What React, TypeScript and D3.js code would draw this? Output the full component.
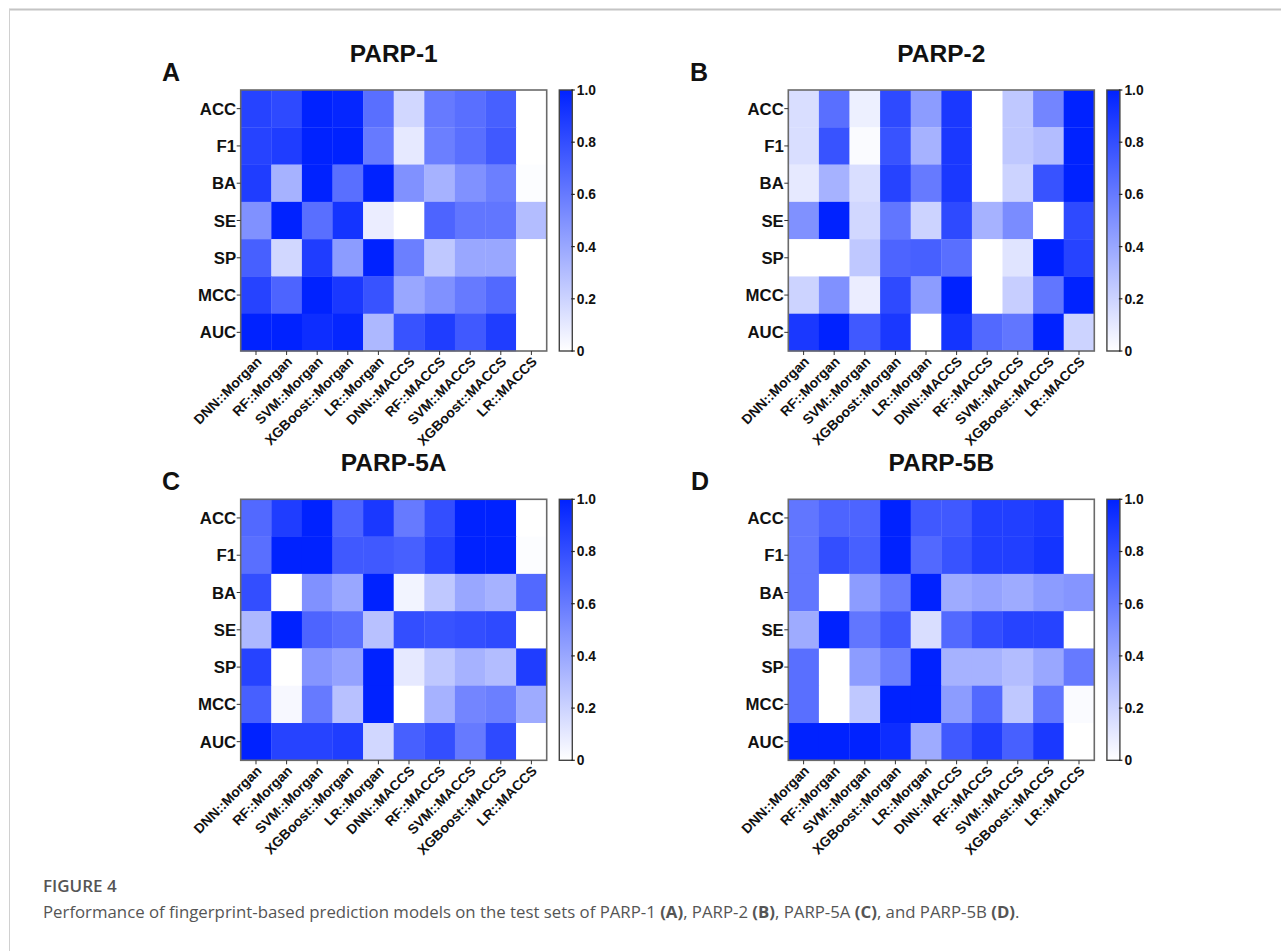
import React from "react";
import * as d3 from "d3";

const metrics = ["ACC", "F1", "BA", "SE", "SP", "MCC", "AUC"];
const models = [
  "DNN::Morgan", "RF::Morgan", "SVM::Morgan", "XGBoost::Morgan", "LR::Morgan",
  "DNN::MACCS", "RF::MACCS", "SVM::MACCS", "XGBoost::MACCS", "LR::MACCS",
];
const colorTicks = [0, 0.2, 0.4, 0.6, 0.8, 1.0];

// rows follow metrics, columns follow models
const parp1 = [
  [0.85, 0.82, 1.0, 0.98, 0.65, 0.18, 0.6, 0.65, 0.72, 0.0],
  [0.85, 0.88, 1.0, 1.0, 0.6, 0.1, 0.58, 0.65, 0.75, 0.0],
  [0.88, 0.35, 1.0, 0.65, 1.0, 0.5, 0.35, 0.5, 0.58, 0.01],
  [0.5, 1.0, 0.65, 0.92, 0.08, 0.0, 0.7, 0.62, 0.62, 0.3],
  [0.72, 0.18, 0.88, 0.45, 1.0, 0.58, 0.25, 0.4, 0.4, 0.0],
  [0.85, 0.7, 1.0, 0.9, 0.78, 0.4, 0.5, 0.6, 0.68, 0.0],
  [1.0, 1.0, 0.95, 0.98, 0.32, 0.78, 0.88, 0.75, 0.88, 0.0],
];
const parp2 = [
  [0.15, 0.65, 0.07, 0.82, 0.45, 0.9, 0.0, 0.25, 0.55, 1.0],
  [0.15, 0.78, 0.02, 0.78, 0.35, 0.9, 0.0, 0.25, 0.3, 1.0],
  [0.1, 0.35, 0.15, 0.85, 0.6, 0.9, 0.0, 0.2, 0.78, 1.0],
  [0.5, 1.0, 0.18, 0.62, 0.2, 0.82, 0.35, 0.52, 0.0, 0.82],
  [0.0, 0.0, 0.25, 0.7, 0.72, 0.65, 0.0, 0.12, 1.0, 0.85],
  [0.2, 0.5, 0.08, 0.82, 0.45, 1.0, 0.0, 0.22, 0.62, 1.0],
  [0.9, 1.0, 0.75, 0.9, 0.0, 0.92, 0.68, 0.62, 1.0, 0.2],
];
const parp5a = [
  [0.68, 0.88, 1.0, 0.7, 0.9, 0.6, 0.8, 1.0, 1.0, 0.0],
  [0.65, 1.0, 1.0, 0.75, 0.75, 0.72, 0.85, 1.0, 1.0, 0.01],
  [0.8, 0.0, 0.5, 0.4, 1.0, 0.05, 0.25, 0.4, 0.35, 0.68],
  [0.32, 1.0, 0.7, 0.65, 0.28, 0.8, 0.78, 0.8, 0.82, 0.0],
  [0.85, 0.0, 0.48, 0.42, 1.0, 0.1, 0.25, 0.35, 0.3, 0.88],
  [0.72, 0.03, 0.6, 0.28, 1.0, 0.0, 0.35, 0.55, 0.58, 0.38],
  [1.0, 0.85, 0.85, 0.88, 0.18, 0.72, 0.8, 0.6, 0.82, 0.0],
];
const parp5b = [
  [0.62, 0.7, 0.7, 1.0, 0.75, 0.75, 0.87, 0.87, 0.9, 0.0],
  [0.62, 0.8, 0.72, 1.0, 0.68, 0.78, 0.87, 0.87, 0.92, 0.0],
  [0.62, 0.0, 0.45, 0.6, 1.0, 0.38, 0.42, 0.38, 0.45, 0.48],
  [0.38, 1.0, 0.62, 0.75, 0.15, 0.68, 0.8, 0.85, 0.85, 0.0],
  [0.65, 0.0, 0.45, 0.58, 1.0, 0.35, 0.35, 0.3, 0.4, 0.6],
  [0.65, 0.0, 0.25, 1.0, 1.0, 0.45, 0.68, 0.25, 0.62, 0.02],
  [1.0, 1.0, 1.0, 0.95, 0.38, 0.75, 0.88, 0.72, 0.9, 0.0],
];

const panels = [
  { letter: "A", title: "PARP-1", data: parp1, left: 240.7, top: 90, letterX: 162 },
  { letter: "B", title: "PARP-2", data: parp2, left: 788.3, top: 90, letterX: 690 },
  { letter: "C", title: "PARP-5A", data: parp5a, left: 240.7, top: 499.3, letterX: 162 },
  { letter: "D", title: "PARP-5B", data: parp5b, left: 788.3, top: 499.3, letterX: 691 },
];

const W = 306;
const H = 261;
const CB_GAP = 12.6;
const CB_W = 13;
const FONT = "'Liberation Sans', Arial, sans-serif";

const color = d3.scaleSequential(d3.interpolateRgb("#ffffff", "#0022ff")).domain([0, 1]);

function Panel({ p, idx }: { p: any; idx: number }) {
  const x = d3.scaleBand<string>().domain(models).range([0, W]);
  const y = d3.scaleBand<string>().domain(metrics).range([0, H]);
  const cb = d3.scaleLinear().domain([0, 1]).range([H, 0]);
  const gid = `grad${idx}`;
  const stops = d3.range(0, 1.0001, 0.1);
  return (
    <g transform={`translate(${p.left},${p.top})`}>
      <defs>
        <linearGradient id={gid} x1="0" y1="1" x2="0" y2="0">
          {stops.map((s) => (
            <stop key={s} offset={s} stopColor={color(s)} />
          ))}
        </linearGradient>
      </defs>
      <text x={p.letterX - p.left} y={-9.5} fontFamily={FONT} fontWeight="bold" fontSize={25} fill="#111">
        {p.letter}
      </text>
      <text x={W / 2} y={-28.5} textAnchor="middle" fontFamily={FONT} fontWeight="bold" fontSize={24.5} fill="#111">
        {p.title}
      </text>
      {p.data.map((row: number[], ri: number) =>
        row.map((v: number, ci: number) => (
          <rect
            key={`${ri}-${ci}`}
            x={x(models[ci])}
            y={y(metrics[ri])}
            width={x.bandwidth() + 0.3}
            height={y.bandwidth() + 0.3}
            fill={color(v)}
          />
        ))
      )}
      <rect x={0} y={0} width={W} height={H} fill="none" stroke="#6a6a6a" strokeWidth={1.6} />
      {metrics.map((m) => {
        const cy = (y(m) as number) + y.bandwidth() / 2;
        return (
          <g key={m}>
            <line x1={-4} x2={0} y1={cy} y2={cy} stroke="#333" strokeWidth={1} />
            <text x={-4.5} y={cy} dy="0.36em" textAnchor="end" fontFamily={FONT} fontWeight="bold" fontSize={16.8} fill="#111">
              {m}
            </text>
          </g>
        );
      })}
      {models.map((m) => {
        const cx = (x(m) as number) + x.bandwidth() / 2;
        return (
          <g key={m}>
            <line x1={cx} x2={cx} y1={H} y2={H + 4} stroke="#333" strokeWidth={1} />
            <text
              transform={`translate(${cx + 3},${H + 8}) rotate(-45)`}
              dy="0.35em"
              textAnchor="end"
              fontFamily={FONT}
              fontWeight="bold"
              fontSize={13.8}
              fill="#111"
            >
              {m}
            </text>
          </g>
        );
      })}
      <g transform={`translate(${W + CB_GAP},0)`}>
        <rect x={0} y={0} width={CB_W} height={H} fill={`url(#${gid})`} stroke="#444" strokeWidth={1.4} />
        {colorTicks.map((t) => (
          <g key={t}>
            <line x1={CB_W - 1} x2={CB_W + 2.5} y1={cb(t)} y2={cb(t)} stroke="#222" strokeWidth={1.2} />
            <text x={CB_W + 4.5} y={cb(t)} dy="0.36em" fontFamily={FONT} fontWeight="bold" fontSize={13.8} fill="#111">
              {t === 0 ? "0" : d3.format(".1f")(t)}
            </text>
          </g>
        ))}
      </g>
    </g>
  );
}

export default function App() {
  return (
    <svg
      width={1281}
      height={951}
      style={{ position: "absolute", left: 0, top: 0, background: "#fff" }}
    >
      <rect x={0} y={0} width={1281} height={951} fill="#fff" />
      <line x1={9} x2={1281} y1={9.5} y2={9.5} stroke="#c4c4c4" strokeWidth={2} />
      <line x1={9.5} x2={9.5} y1={9} y2={951} stroke="#d0d0d0" strokeWidth={1} />
      {panels.map((p, i) => (
        <Panel key={p.letter} p={p} idx={i} />
      ))}
      <text x={43} y={892} fontFamily="'Open Sans', sans-serif" fontWeight={600} fontSize={17} fill="#555">
        FIGURE 4
      </text>
      <text x={43} y={918} fontFamily="'Open Sans', sans-serif" fontSize={16.8} fill="#555">
        Performance of fingerprint-based prediction models on the test sets of PARP-1{" "}
        <tspan fontWeight="bold">(A)</tspan>, PARP-2 <tspan fontWeight="bold">(B)</tspan>, PARP-5A{" "}
        <tspan fontWeight="bold">(C)</tspan>, and PARP-5B <tspan fontWeight="bold">(D)</tspan>.
      </text>
    </svg>
  );
}
